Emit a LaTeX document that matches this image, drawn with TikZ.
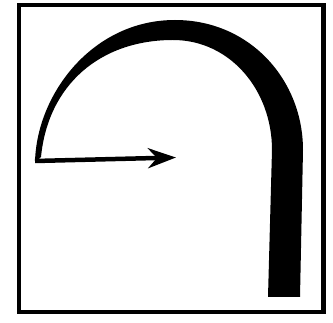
\documentclass[tikz,border=0pt]{standalone}
\usetikzlibrary{arrows.meta}
\begin{document}
\begin{tikzpicture}[x=1pt,y=-1pt,
  frame/.style={draw=black,line width=4.5pt},
  band/.style={fill=black},
  pointer/.style={draw=black,line width=4.5pt,-{Stealth[length=28pt,width=20pt,inset=9pt]}}]
\useasboundingbox (0,0) rectangle (333,323);
\draw[frame] (19,5) rectangle (323.5,312);
\fill[band] (35,163) .. controls (36,95) and (92,20) .. (175,20)
  .. controls (250,20) and (303,80) .. (303,150)
  -- (300,297) -- (268,297) -- (272,150)
  .. controls (272,90) and (230,40) .. (173,40)
  .. controls (100,40) and (48,85) .. (41,157)
  -- cycle;
\coordinate (start) at (35,161);
\coordinate (tip) at (176,157.5);
\draw[pointer] (start) -- (tip);
\end{tikzpicture}
\end{document}
